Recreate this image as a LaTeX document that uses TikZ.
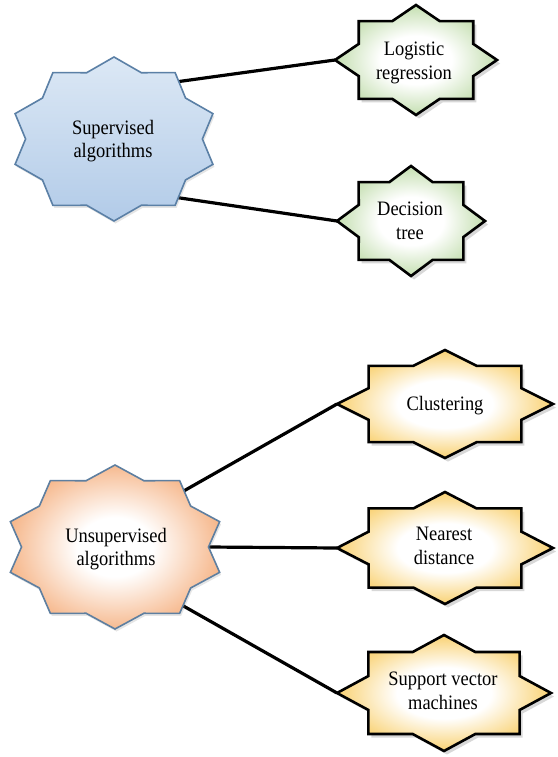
\documentclass[tikz,border=0pt]{standalone}
\usepackage{fontspec}
\setmainfont{Liberation Serif}[FakeStretch=0.9]
\usetikzlibrary{calc,shadows}

\definecolor{skyTop}{HTML}{DCE8F5}
\definecolor{skyBottom}{HTML}{B2CBE8}
\definecolor{skyEdge}{HTML}{5B80A6}
\definecolor{peachEdge}{HTML}{5E7FA0}
\definecolor{peachGlow}{HTML}{F3A066}
\definecolor{leafGlow}{HTML}{AFD394}
\definecolor{goldGlow}{HTML}{F7C140}

% radial fills: white core fading to a coloured rim
\pgfdeclareradialshading{peachfill}{\pgfpointorigin}{color(0bp)=(white); color(9bp)=(white); color(31bp)=(peachGlow); color(50bp)=(peachGlow)}
\pgfdeclareradialshading{leaffill}{\pgfpointorigin}{color(0bp)=(white); color(11bp)=(white); color(30bp)=(leafGlow); color(50bp)=(leafGlow)}
\pgfdeclareradialshading{goldfill}{\pgfpointorigin}{color(0bp)=(white); color(11bp)=(white); color(30bp)=(goldGlow); color(50bp)=(goldGlow)}

\pgfdeclarelayer{bg}
\pgfdeclarelayer{links}
\pgfsetlayers{bg,links,main}

% star outline: #1 name, #2 cx, #3 cy, #4 rx, #5 ry, #6 points, #7 inner ratio, #8 style
% vertices are named #1-p0 (top) ... clockwise
\newcommand\drawstar[8]{%
  \pgfmathtruncatemacro\starlast{2*#6-1}%
  \path[#8] (#2,{#3-#5}) coordinate (#1-p0)
    \foreach \k in {1,...,\starlast}{
      -- ({#2+#4*(mod(\k,2)==0 ? 1 : #7)*cos(90-\k*180/#6)},
          {#3-#5*(mod(\k,2)==0 ? 1 : #7)*sin(90-\k*180/#6)}) coordinate (#1-p\k)
    } -- cycle;
}

\tikzset{
  bigsky/.style={draw=skyEdge, line width=1.6pt, line join=miter,
    top color=skyTop, bottom color=skyBottom,
    drop shadow={opacity=0.2, shadow xshift=1.5pt, shadow yshift=-2.5pt}},
  bigpeach/.style={draw=peachEdge, line width=1.6pt, line join=miter,
    shading=peachfill,
    drop shadow={opacity=0.2, shadow xshift=1.5pt, shadow yshift=-2.5pt}},
  leafstar/.style={draw=black, line width=2.6pt, line join=miter,
    shading=leaffill,
    drop shadow={opacity=0.3, shadow xshift=3pt, shadow yshift=-3.5pt}},
  goldstar/.style={draw=black, line width=2.6pt, line join=miter,
    shading=goldfill,
    drop shadow={opacity=0.3, shadow xshift=3pt, shadow yshift=-3.5pt}},
  lbl/.style={align=center, inner sep=0pt, text=black,
    font=\fontsize{20.5}{23.5}\selectfont},
  link/.style={draw=black, line width=3.2pt}
}

\begin{document}
\begin{tikzpicture}[x=1pt, y=-1pt]
\useasboundingbox (0,0) rectangle (557,757);
\begin{pgfonlayer}{bg}
  \fill[white] (0,0) rectangle (557,757);
\end{pgfonlayer}

% category stars
\drawstar{sup}{114}{139}{104}{82}{10}{0.85}{bigsky}
\drawstar{uns}{115}{547}{110}{82}{10}{0.85}{bigpeach}

% method stars
\drawstar{log}{416}{60}{81}{55}{8}{0.765}{leafstar}
\drawstar{dec}{411}{221}{74}{55}{8}{0.765}{leafstar}
\drawstar{clu}{445}{404}{108}{54}{8}{0.765}{goldstar}
\drawstar{nea}{445}{548}{108}{56}{8}{0.765}{goldstar}
\drawstar{svm}{444}{693}{107}{58}{8}{0.765}{goldstar}

% labels
\node[lbl] (supT) at (113,141) {Supervised\\algorithms};
\node[lbl] (unsT) at (116,549) {Unsupervised\\algorithms};
\node[lbl] (logT) at (414,63) {Logistic\\regression};
\node[lbl] (decT) at (410,221) {Decision\\tree};
\node[lbl] (cluT) at (445,406) {Clustering};
\node[lbl] (neaT) at (444,546) {Nearest\\distance};
\node[lbl] (svmT) at (443,691) {Support vector\\machines};

% connectors
\begin{pgfonlayer}{links}
  \draw[link] ($(sup-p2)!0.35!(sup-p3)$) -- (log-p12);
  \draw[link] ($(sup-p8)!0.3!(sup-p7)$) -- (dec-p12);
  \draw[link] ($(uns-p2)!0.4!(uns-p3)$) -- (clu-p12);
  \draw[link] (uns-p5) -- (nea-p12);
  \draw[link] ($(uns-p8)!0.3!(uns-p7)$) -- (svm-p12);
\end{pgfonlayer}
\end{tikzpicture}
\end{document}
